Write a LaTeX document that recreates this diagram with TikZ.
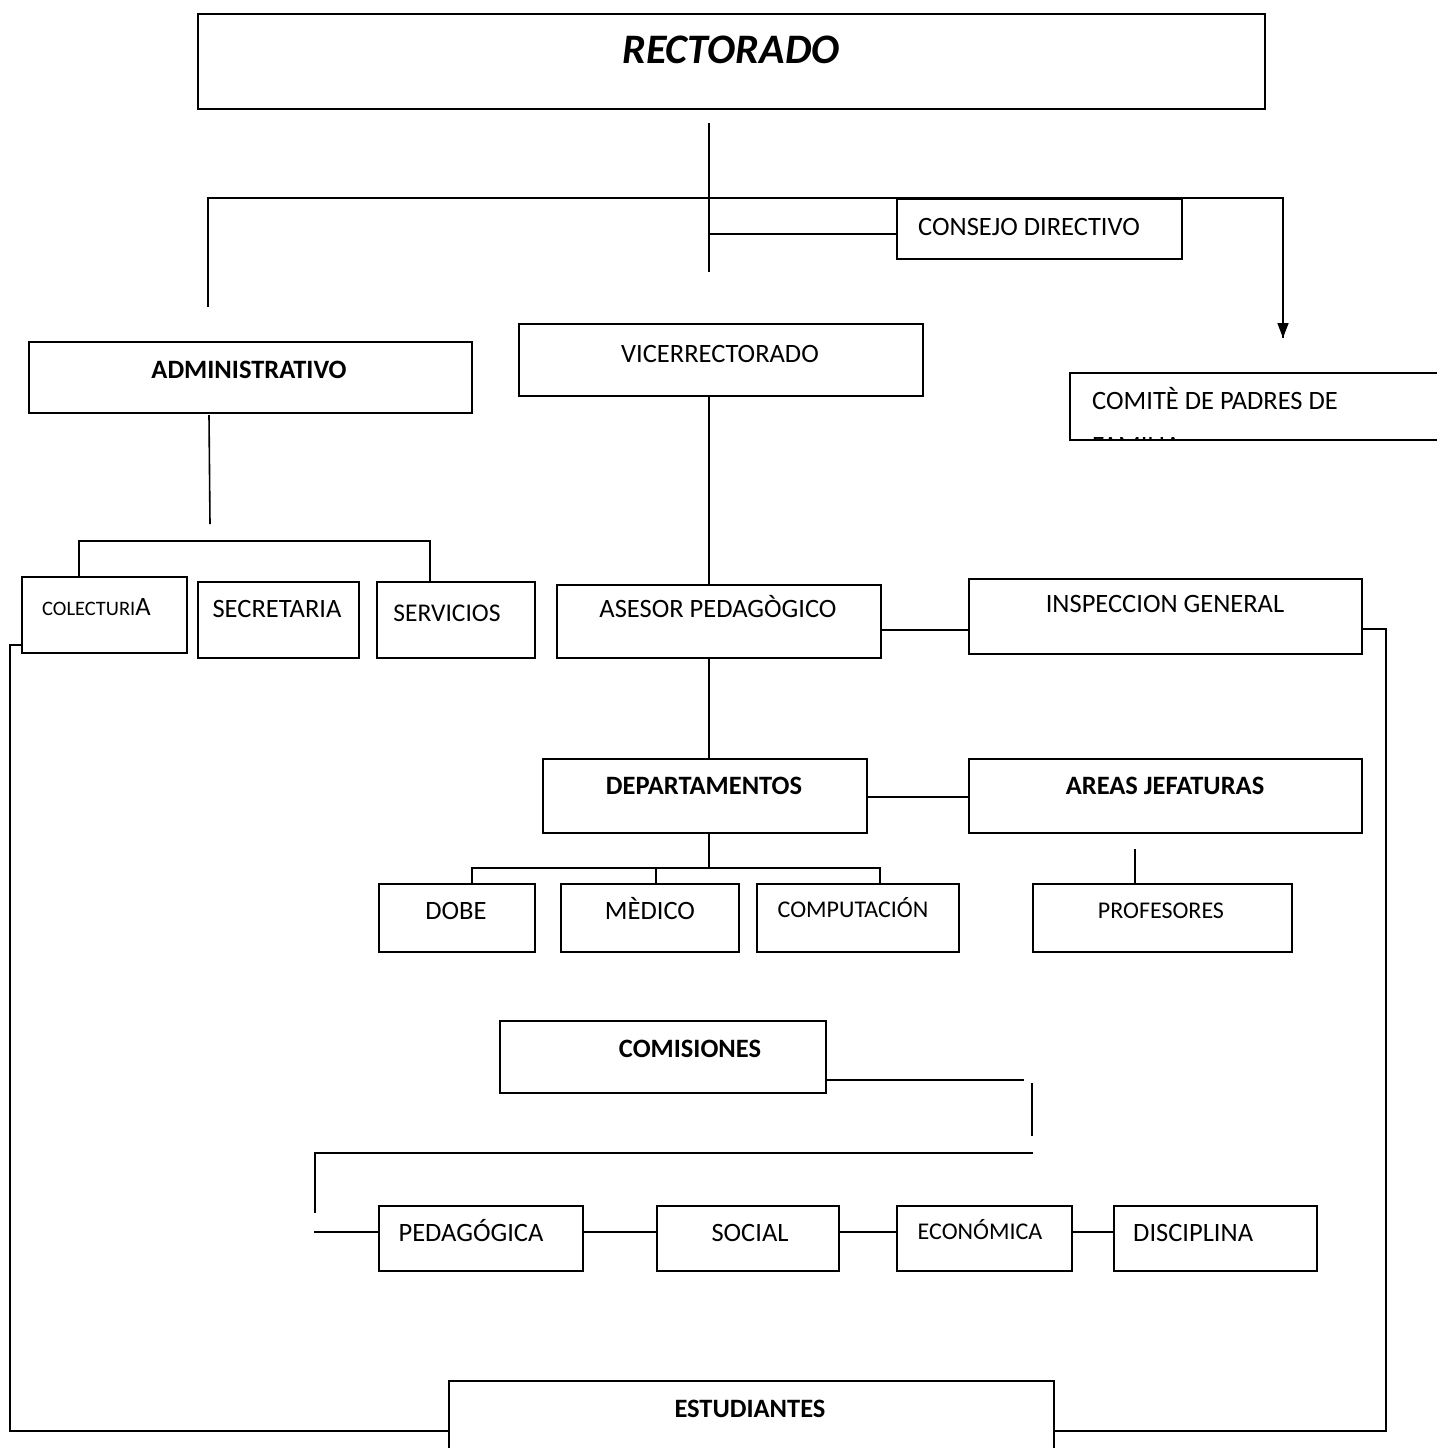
\documentclass[tikz,border=0pt]{standalone}
\usepackage{fontspec}
\setmainfont{Carlito}
\usetikzlibrary{arrows.meta}
\tikzset{
  x=1pt, y=-1pt,
  conn/.style={line width=1.6pt},
  txt/.style={anchor=base, inner sep=0pt, font=\fontsize{26.5}{31}\selectfont},
  txts/.style={anchor=base, inner sep=0pt, font=\fontsize{24}{28}\selectfont},
  txtb/.style={anchor=base, inner sep=0pt, font=\fontsize{26.5}{31}\selectfont\bfseries},
}
% #1 name, #2 x1, #3 y1, #4 x2, #5 y2
\newcommand\obox[5]{%
  \node[draw, line width=1.6pt, anchor=north west, inner sep=0pt,
        minimum width={(#4-#2)*1pt}, minimum height={(#5-#3)*1pt}] (#1) at (#2,#3) {};}
\begin{document}
\begin{tikzpicture}
\useasboundingbox (0,0) rectangle (1437,1448);
\fill[white] (0,0) rectangle (1437,1448);

% RECTORADO
\obox{rect}{197}{13}{1264}{108}
\node[anchor=base, inner sep=0pt, font=\fontsize{42}{48}\selectfont\bfseries\itshape] (trect) at (731,63) {RECTORADO};

% top connectors
\coordinate (r1) at (709,123);
\coordinate (r2) at (709,272);
\draw[conn] (r1) -- (r2);
\coordinate (hl) at (208,198);
\coordinate (hr) at (1283,198);
\coordinate (adm1) at (208,307);
\coordinate (arr) at (1283,338);
\draw[conn] (adm1) -- (hl) -- (hr) -- (arr);
\draw[conn, -{Triangle[width=11pt,length=15pt]}] (1283,320) -- (arr);

% CONSEJO DIRECTIVO
\obox{cons}{896}{198}{1181}{258}
\node[txt, anchor=base west] (tcons) at (918,235.5) {CONSEJO DIRECTIVO};
\draw[conn] (709,234) -- (cons.west |- 709,234);

% ADMINISTRATIVO
\obox{adm}{28}{341}{471}{412}
\node[txtb] (tadm) at (249,378) {ADMINISTRATIVO};

% VICERRECTORADO
\obox{vice}{518}{323}{922}{395}
\node[txt] (tvice) at (720,362.5) {VICERRECTORADO};

% COMITE (box open at the right edge of the page, second line cut off)
\begin{scope}
\clip (1060,365) rectangle (1437,438);
\node[txt, anchor=base west] (tcom) at (1092,409.5) {COMITÈ DE PADRES DE};
\node[txt, anchor=base west] (tcom2) at (1092,454) {FAMILIA};
\end{scope}
\draw[line width=1.6pt] (1437,373) -- (1070,373) -- (1070,440) -- (1437,440);
\coordinate (com) at (1070,373);

% admin subtree
\coordinate (a1) at (209,415);
\coordinate (a2) at (210,524);
\draw[conn] (a1) -- (a2);
\obox{col}{21}{576}{186}{652}
\obox{sec}{197}{581}{358}{657}
\obox{ser}{376}{581}{534}{657}
\draw[conn] (col.north -| 79,0) -- (79,541) -- (430,541) -- (ser.north -| 430,0);
\node[anchor=base west, inner sep=0pt] (tcol) at (42,615) {\fontsize{20.5}{24}\selectfont COLECTURI\fontsize{26.5}{31}\selectfont A};
\node[txt] (tsec) at (277,617.5) {SECRETARIA};
\node[txt, font=\fontsize{25.5}{30}\selectfont] (tser) at (447,621) {SERVICIOS};

% asesor / inspeccion
\obox{ase}{556}{584}{880}{657}
\node[txt] (tase) at (718,617.5) {ASESOR PEDAGÒGICO};
\obox{ins}{968}{578}{1361}{653}
\node[txt] (tins) at (1165,612.5) {INSPECCION GENERAL};
\draw[conn] (vice.south -| 709,0) -- (ase.north -| 709,0);
\draw[conn] (ase.east |- 0,630) -- (ins.west |- 0,630);

% departamentos
\obox{dep}{542}{758}{866}{832}
\node[txtb] (tdep) at (704,794) {DEPARTAMENTOS};
\obox{are}{968}{758}{1361}{832}
\node[txtb] (tare) at (1165,794) {AREAS JEFATURAS};
\draw[conn] (ase.south -| 709,0) -- (dep.north -| 709,0);
\draw[conn] (dep.east |- 0,797) -- (are.west |- 0,797);

\obox{dobe}{378}{883}{534}{951}
\obox{med}{560}{883}{738}{951}
\obox{comp}{756}{883}{958}{951}
\obox{prof}{1032}{883}{1291}{951}
\node[txt] (tdobe) at (456,919.5) {DOBE};
\node[txt] (tmed) at (650,919.5) {MÈDICO};
\node[txts] (tcomp) at (853,917) {COMPUTACIÓN};
\node[txts] (tprof) at (1161,918) {PROFESORES};
\draw[conn] (dep.south -| 709,0) -- (709,868);
\draw[conn] (dobe.north -| 472,0) -- (472,868) -- (880,868) -- (comp.north -| 880,0);
\draw[conn] (656,868) -- (med.north -| 656,0);
\coordinate (p1) at (1135,849);
\draw[conn] (p1) -- (prof.north -| 1135,0);

% comisiones
\obox{comi}{499}{1020}{825}{1092}
\node[txtb] (tcomi) at (690,1057) {COMISIONES};
\coordinate (c1) at (1024,1080);
\draw[conn] (comi.east |- 0,1080) -- (c1);
\coordinate (c2) at (1032,1083);
\coordinate (c3) at (1032,1136);
\draw[conn] (c2) -- (c3);
\coordinate (c4) at (1033,1153);
\coordinate (c5) at (315,1213);
\draw[conn] (c4) -- (315,1153) -- (c5);

\obox{ped}{378}{1205}{582}{1270}
\obox{soc}{656}{1205}{838}{1270}
\obox{eco}{896}{1205}{1071}{1270}
\obox{dis}{1113}{1205}{1316}{1270}
\node[txt] (tped) at (471,1241.5) {PEDAGÓGICA};
\node[txt] (tsoc) at (750,1241.5) {SOCIAL};
\node[txts] (teco) at (980,1239) {ECONÓMICA};
\node[txt, anchor=base west] (tdis) at (1133,1241.5) {DISCIPLINA};
\coordinate (c6) at (314,1232);
\draw[conn] (c6) -- (ped.west |- 0,1232);
\draw[conn] (ped.east |- 0,1232) -- (soc.west |- 0,1232);
\draw[conn] (soc.east |- 0,1232) -- (eco.west |- 0,1232);
\draw[conn] (eco.east |- 0,1232) -- (dis.west |- 0,1232);

% estudiantes
\begin{scope}
\clip (0,0) rectangle (1437,1448);
\obox{est}{448}{1380}{1053}{1460}
\end{scope}
\node[txtb] (test) at (750,1417) {ESTUDIANTES};
\draw[conn] (col.west |- 0,645) -- (10,645) -- (10,1431) -- (est.west |- 0,1431);
\draw[conn] (ins.east |- 0,629) -- (1386,629) -- (1386,1431) -- (est.east |- 0,1431);
\end{tikzpicture}
\end{document}
